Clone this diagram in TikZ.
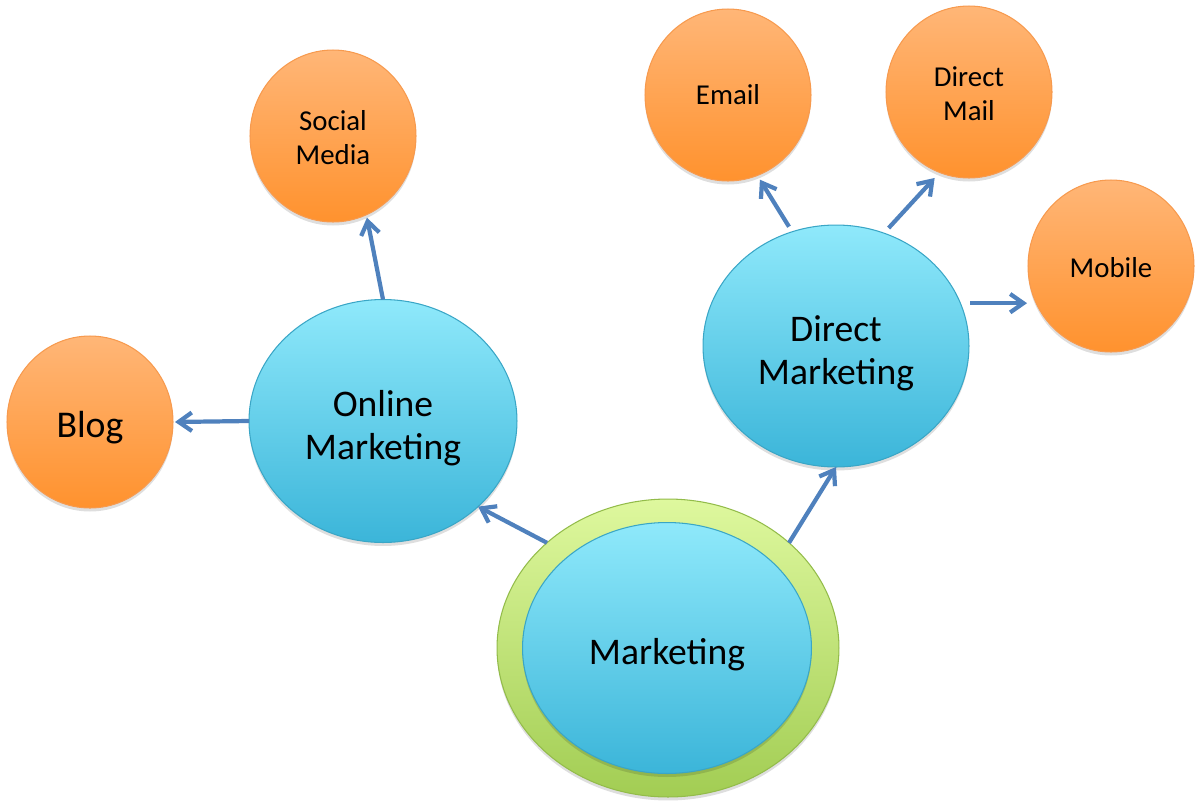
\documentclass[tikz,border=0pt]{standalone}
\usepackage{fontspec}
\setmainfont{Carlito}
\usetikzlibrary{shapes.geometric,arrows.meta,shadows}
\definecolor{orTop}{HTML}{FFB677}
\definecolor{orBot}{HTML}{FF922E}
\definecolor{orLine}{HTML}{F79A4E}
\definecolor{blTop}{HTML}{8FE9FB}
\definecolor{blBot}{HTML}{3BB5D9}
\definecolor{blLine}{HTML}{3AA6C6}
\definecolor{grTop}{HTML}{DEF89E}
\definecolor{grBot}{HTML}{A2CD53}
\definecolor{grLine}{HTML}{93BC4A}
\definecolor{arrCol}{HTML}{4F81BD}
\newcommand{\lowr}[2]{\raisebox{-#1}[\height][\depth]{#2}}
\tikzset{
  softshadow/.style={drop shadow={shadow xshift=0pt,shadow yshift=-2pt,opacity=0.13,fill=black}},
  leaf/.style={ellipse,inner sep=0pt,outer sep=0pt,minimum width=3.32cm,minimum height=3.44cm,
    top color=orTop,bottom color=orBot,draw=orLine,line width=0.6pt,softshadow,align=center,
    font=\fontsize{16.4}{19.2}\selectfont},
  hub/.style={ellipse,inner sep=0pt,outer sep=0pt,
    top color=blTop,bottom color=blBot,draw=blLine,line width=0.6pt,softshadow,align=center,
    font=\fontsize{21.4}{24.6}\selectfont},
  ring/.style={ellipse,inner sep=0pt,outer sep=0pt,
    top color=grTop,bottom color=grBot,draw=grLine,line width=0.6pt,softshadow},
  arr/.style={draw=arrCol,line width=2.4pt,-{Straight Barb[length=7.5pt,width=10.5pt,line width=2.4pt]}}
}
\begin{document}
\begin{tikzpicture}[x=0.02cm,y=-0.02cm]
\useasboundingbox (0,0) rectangle (1201,809);
% nodes
\node[ring,minimum width=6.84cm,minimum height=5.96cm] (mko) at (668,648) {};
\node[hub,minimum width=5.78cm,minimum height=5.02cm] (mk) at (667,648) {\lowr{4pt}{Marketing}};
\node[hub,minimum width=5.36cm,minimum height=4.86cm] (om) at (383,421) {\lowr{4pt}{Online}\\\lowr{4pt}{Marketing}};
\node[hub,minimum width=5.32cm,minimum height=4.84cm] (dm) at (836,346) {\lowr{4pt}{Direct}\\\lowr{4pt}{Marketing}};
\node[leaf,font=\fontsize{21.5}{25}\selectfont] (blog) at (90,422) {\lowr{3.4pt}{Blog}};
\node[leaf] (sm) at (333,136) {\lowr{0.8pt}{Social}\\\lowr{0.8pt}{Media}};
\node[leaf] (em) at (728,95) {Email};
\node[leaf] (dml) at (969,92) {\lowr{0.8pt}{Direct}\\\lowr{0.8pt}{Mail}};
\node[leaf] (mob) at (1111,266) {\lowr{1pt}{Mobile}};
% connectors
\draw[arr] (mko.139) -- (om.-42);
\draw[arr] (mko.41.5) -- (dm.-90);
\draw[arr,shorten >=0.04cm] (om.west) -- (blog.east);
\draw[arr,shorten >=0.06cm] (om.north) -- (sm.-67.5);
\draw[arr,shorten <=0.12cm,shorten >=0.1cm] (dm.111) -- (em.-70);
\draw[arr,shorten <=0.14cm,shorten >=0.15cm] (dm.67) -- (dml.-110.8);
\draw[arr,shorten <=0.2cm,shorten >=0.02cm] (dm.19.5) -- (dm.19.5 -| mob.west);
\end{tikzpicture}
\end{document}
